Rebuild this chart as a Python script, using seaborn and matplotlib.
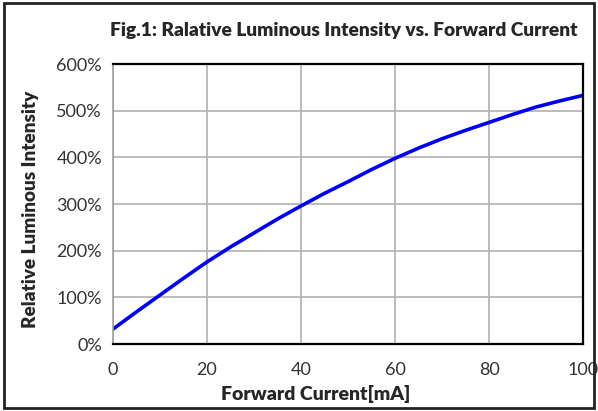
import matplotlib
matplotlib.use("Agg")
import matplotlib.pyplot as plt
import matplotlib.ticker as mticker
import seaborn as sns
import pandas as pd

# curve
current_ma = [0, 5, 10, 15, 20, 25, 30, 35, 40, 45, 50,
              55, 60, 65, 70, 75, 80, 85, 90, 95, 100]
intensity_pct = [32, 69, 105, 141, 176, 208, 238, 268, 296, 323, 348,
                 374, 398, 420, 440, 458, 475, 492, 508, 521, 533]

x_ticks = [0, 20, 40, 60, 80, 100]
y_ticks = [0, 100, 200, 300, 400, 500, 600]

df = pd.DataFrame({"Forward Current[mA]": current_ma,
                   "Relative Luminous Intensity": intensity_pct})

sns.set_style("white")
plt.rcParams['font.family'] = ['Lato', 'DejaVu Sans']

fig = plt.figure(figsize=(5.98, 4.11), dpi=100)
ax = fig.add_axes([0.189, 0.163, 0.786, 0.681])

sns.lineplot(data=df, x="Forward Current[mA]", y="Relative Luminous Intensity",
             color="#0000ee", linewidth=2.6, ax=ax)

ax.set_xlim(0, 100)
ax.set_ylim(0, 600)
ax.set_xticks(x_ticks)
ax.set_yticks(y_ticks)
ax.yaxis.set_major_formatter(mticker.FuncFormatter(lambda v, p: f"{int(v)}%"))
ax.grid(True, color="#b0b0b0", linewidth=1.2)
ax.set_axisbelow(True)

for s in ["top", "right", "bottom"]:
    ax.spines[s].set_color("black")
    ax.spines[s].set_linewidth(1.6)
ax.spines["left"].set_color("#a0a0a0")
ax.spines["left"].set_linewidth(1.2)

ax.tick_params(axis="y", direction="out", length=6, width=1.2, color="#808080",
               labelsize=13, pad=2, labelcolor="#333333")
ax.tick_params(axis="x", length=0, labelsize=13, pad=13, labelcolor="#333333")

ax.set_xlabel("Forward Current[mA]", fontsize=14, fontweight="heavy")
ax.xaxis.set_label_coords(0.432, -0.145)
ax.set_ylabel("Relative Luminous Intensity", fontsize=13.6, fontweight="heavy")
ax.yaxis.set_label_coords(-0.158, 0.48)

fig.text(0.574, 0.925, "Fig.1: Ralative Luminous Intensity vs. Forward Current",
         ha="center", va="center", fontsize=13.8, fontweight="heavy")

# outer frame around the picture
fig.patches.append(plt.Rectangle((0.006, 0.008), 0.988, 0.984, transform=fig.transFigure,
                                 fill=False, edgecolor="#222222", linewidth=2))

fig.savefig("out.png", dpi=100)
